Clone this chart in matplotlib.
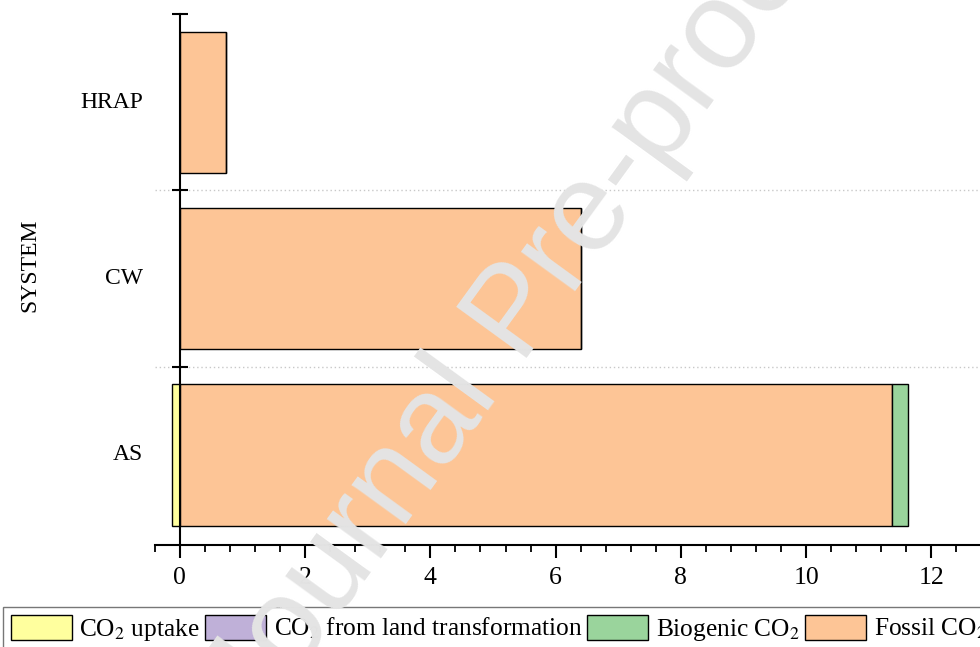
import matplotlib
matplotlib.use('Agg')
import matplotlib.pyplot as plt
from matplotlib.patches import Patch
import matplotlib.transforms as mtransforms

plt.rcParams['font.family'] = 'Liberation Serif'
plt.rcParams['mathtext.fontset'] = 'stix'

# systems (bottom to top) and CO2 contributions per system
systems = ['AS', 'CW', 'HRAP']
co2_uptake = [-0.13, 0.0, 0.0]
co2_land = [0.0, 0.0, 0.0]
fossil_co2 = [11.38, 6.41, 0.73]
biogenic_co2 = [0.24, 0.0, 0.0]

legend_labels = ['CO$_2$ uptake', 'CO$_2$ from land transformation',
                 'Biogenic CO$_2$', 'Fossil CO$_2$']
colors = ['#FFFF9E', '#BFB0D8', '#9AD49C', '#FDC596']

fig = plt.figure(figsize=(9.8, 6.47), dpi=100)
ax = fig.add_axes([0.158, 0.1577, 0.869, 0.8207])

ypos = list(range(len(systems)))
h = 0.8
# negative part (uptake) goes left of zero, the rest stacks to the right
ax.barh(ypos, co2_uptake, height=h, color=colors[0], edgecolor='black', lw=1.0, zorder=3)
left = [0.0] * len(systems)
for vals, c in [(co2_land, colors[1]), (fossil_co2, colors[3]), (biogenic_co2, colors[2])]:
    ax.barh(ypos, vals, left=left, height=h, color=c, edgecolor='black', lw=1.0, zorder=3)
    left = [l + v for l, v in zip(left, vals)]

for yb in [0.5, 1.5]:
    ax.axhline(yb, color='#c8c8c8', ls=(0, (1, 2)), lw=1.0, zorder=1)

ax.set_xlim(-0.4, 13.2)
ax.set_ylim(-0.51, 2.5)

ax.spines['top'].set_visible(False)
ax.spines['right'].set_visible(False)
ax.spines['left'].set_position(('data', 0))
ax.spines['left'].set_linewidth(1.5)
ax.spines['bottom'].set_linewidth(1.5)
ax.spines['left'].set_zorder(4)

ax.set_xticks(range(0, 13, 2))
ax.set_xticks([i * 0.4 for i in range(-1, 33)], minor=True)
ax.tick_params(axis='x', which='major', direction='out', length=9, width=1.5, labelsize=18.5, pad=7)
ax.tick_params(axis='x', which='minor', direction='out', length=5, width=1.3)

ax.set_yticks([0.5, 1.5, 2.5])
ax.set_yticklabels([])
ax.tick_params(axis='y', which='major', direction='inout', length=12, width=1.5)

trans = mtransforms.blended_transform_factory(ax.transData, ax.transData)
for y, name in zip(ypos, systems):
    ax.text(-0.59, y, name, ha='right', va='center', fontsize=17, transform=trans)

fig.text(30 / 980, 1 - 265 / 647, 'SYSTEM', rotation=90, ha='center', va='center', fontsize=17)

handles = [Patch(facecolor=c, edgecolor='black', lw=1.0) for c in colors]
leg = fig.legend(handles, legend_labels, loc='upper left', bbox_to_anchor=(3 / 980, 1 - 607 / 647),
                 ncol=4, fontsize=18.3, frameon=True, fancybox=False, edgecolor='#555555',
                 handlelength=2.4, handleheight=1.15, handletextpad=0.3,
                 columnspacing=0.2, borderpad=0.3, borderaxespad=0)
leg.get_frame().set_linewidth(1.0)

fig.text(517 / 980, 1 - 315 / 647, 'Journal Pre-proof', rotation=54, ha='center', va='center',
         rotation_mode='anchor', fontsize=91, color='#e4e4e4', family='Liberation Sans', zorder=10)

fig.savefig('out.png', dpi=100)
